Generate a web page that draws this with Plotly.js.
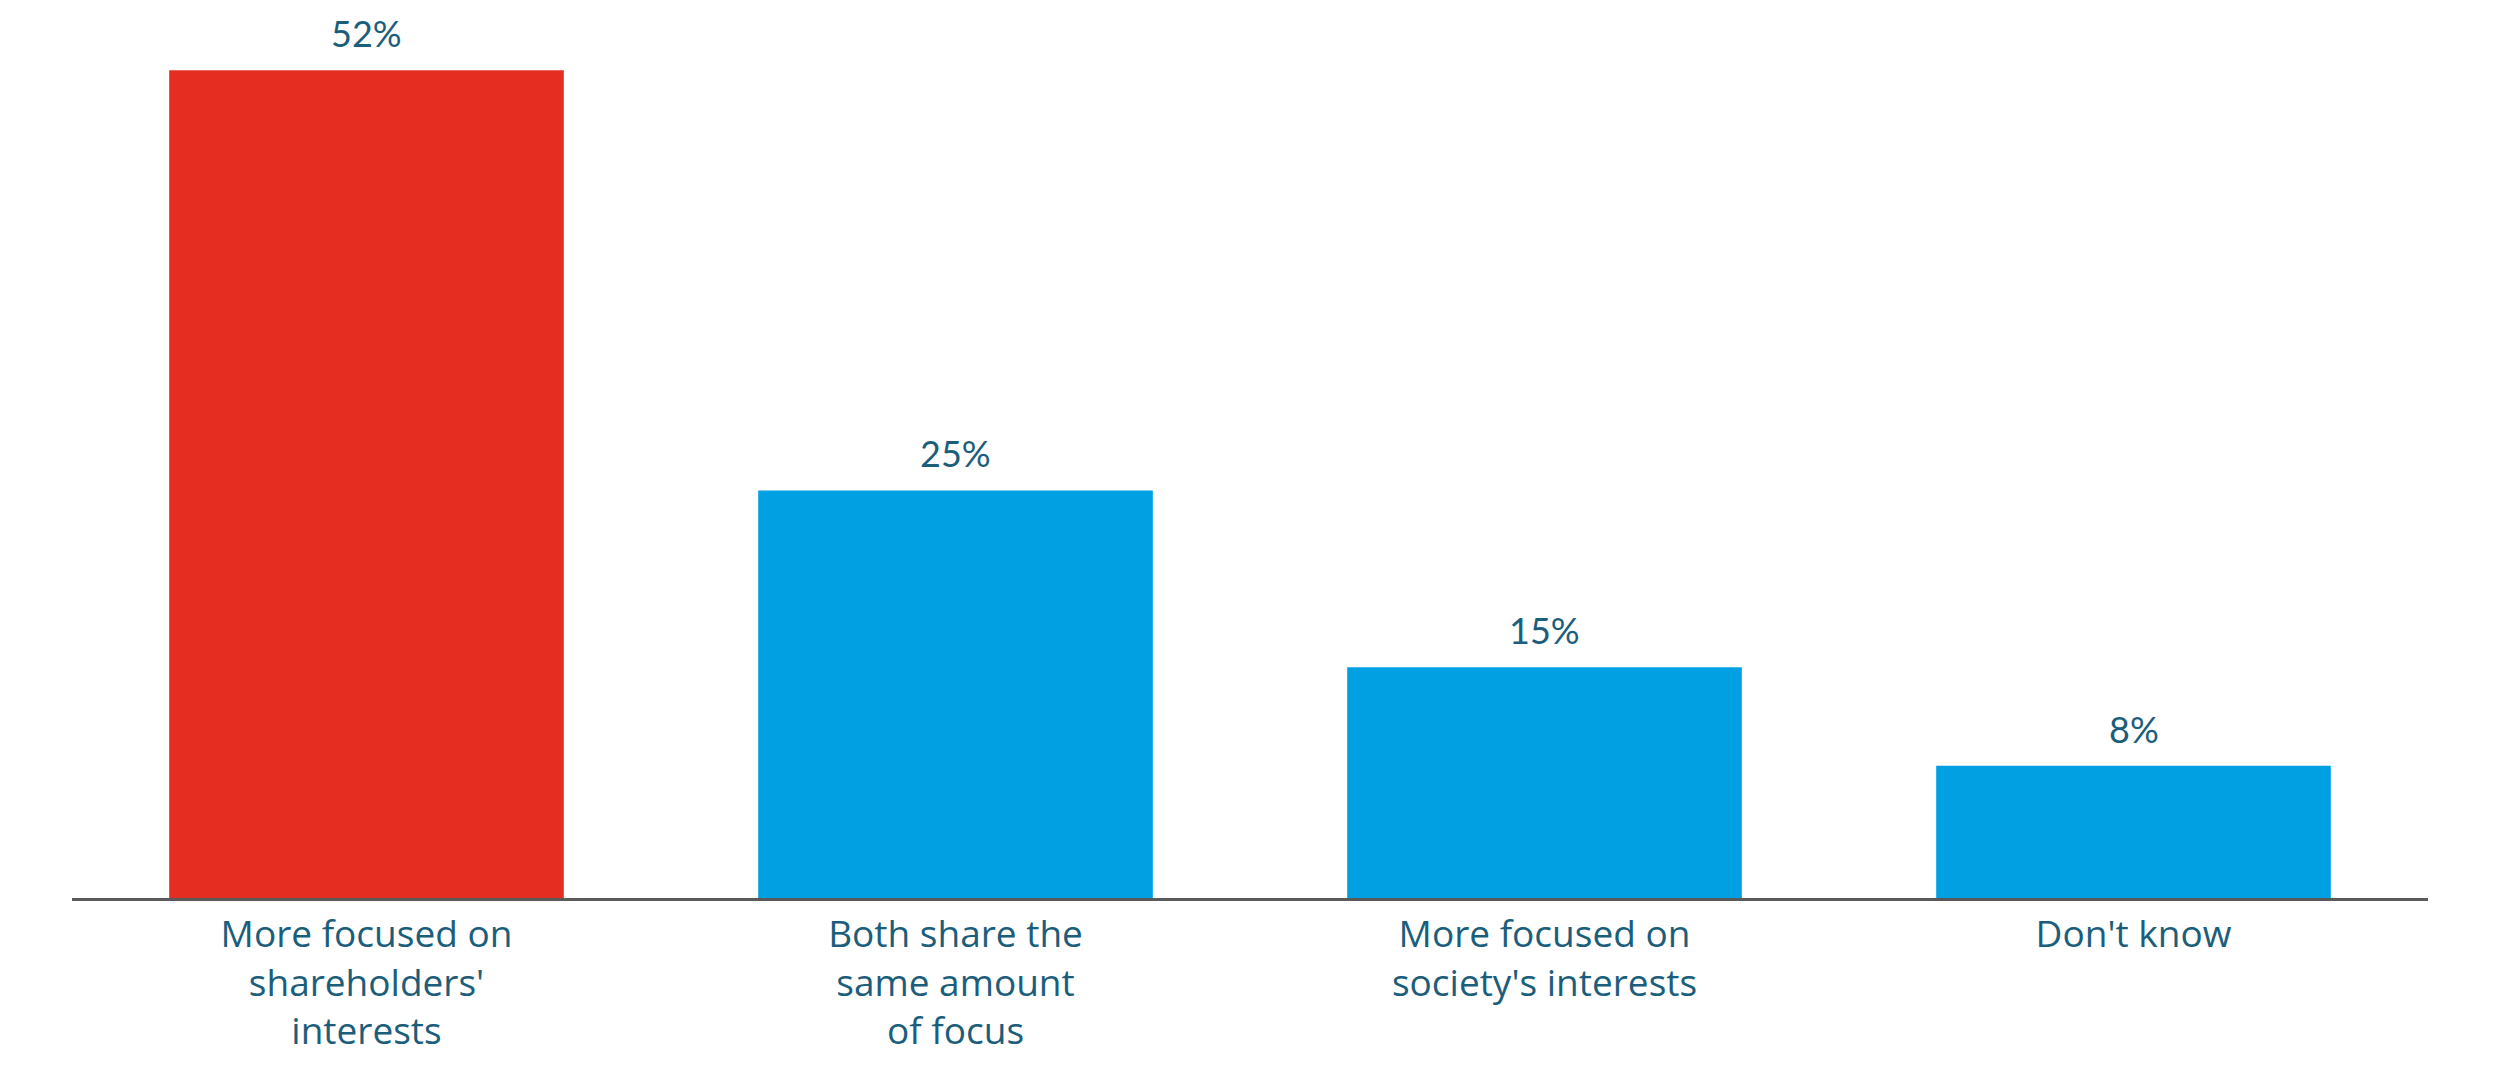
<!DOCTYPE html>
<html>
<head>
<meta charset="utf-8">
<script src="https://cdn.plot.ly/plotly-3.0.1.min.js"></script>
<style>
  html, body { margin: 0; padding: 0; background: #ffffff; }
  #chart { width: 2500px; height: 1074px; }
</style>
</head>
<body>
<div id="chart"></div>
<script>
// ---- Data ----
const categories = [
  "More focused on<br>shareholders'<br>interests",
  "Both share the<br>same amount<br>of focus",
  "More focused on<br>society's interests",
  "Don't know"
];
const values = [52, 25.6, 14.5, 8.3];
const valueLabels = ["52%", "25%", "15%", "8%"];

// ---- Styles ----
const RED = "#e52d21";
const BLUE = "#00a0e3";
const TEXT = "#1b5e7b";
const TICK_FONT = "'Open Sans', Lato, sans-serif";
const LABEL_FONT = "Lato, 'Open Sans', sans-serif";
const barColors = categories.map((c, i) => i === 0 ? RED : BLUE);

const trace = {
  type: "bar",
  x: categories,
  y: values,
  marker: { color: barColors, line: { width: 0 } },
  hoverinfo: "skip",
  showlegend: false
};

const annotations = categories.map((c, i) => ({
  x: c,
  y: values[i],
  xref: "x",
  yref: "y",
  text: valueLabels[i],
  showarrow: false,
  yanchor: "bottom",
  yshift: 13,
  font: { family: LABEL_FONT, size: 36, color: TEXT }
}));

const layout = {
  width: 2500,
  height: 1074,
  margin: { l: 72, r: 72, t: 20, b: 176 },
  paper_bgcolor: "#ffffff",
  plot_bgcolor: "#ffffff",
  bargap: 0.33,
  xaxis: {
    type: "category",
    range: [-0.5, 3.5],
    showline: true,
    linecolor: "#5a5a5a",
    linewidth: 3,
    ticks: "",
    showgrid: false,
    zeroline: false,
    tickfont: { family: TICK_FONT, size: 37, color: TEXT },
    ticklabelstandoff: 2
  },
  yaxis: {
    range: [0, 55.15],
    visible: false,
    showgrid: false,
    zeroline: false
  },
  annotations: annotations,
  font: { family: LABEL_FONT, color: TEXT }
};

Plotly.newPlot("chart", [trace], layout, { staticPlot: true, displayModeBar: false });
</script>
</body>
</html>
